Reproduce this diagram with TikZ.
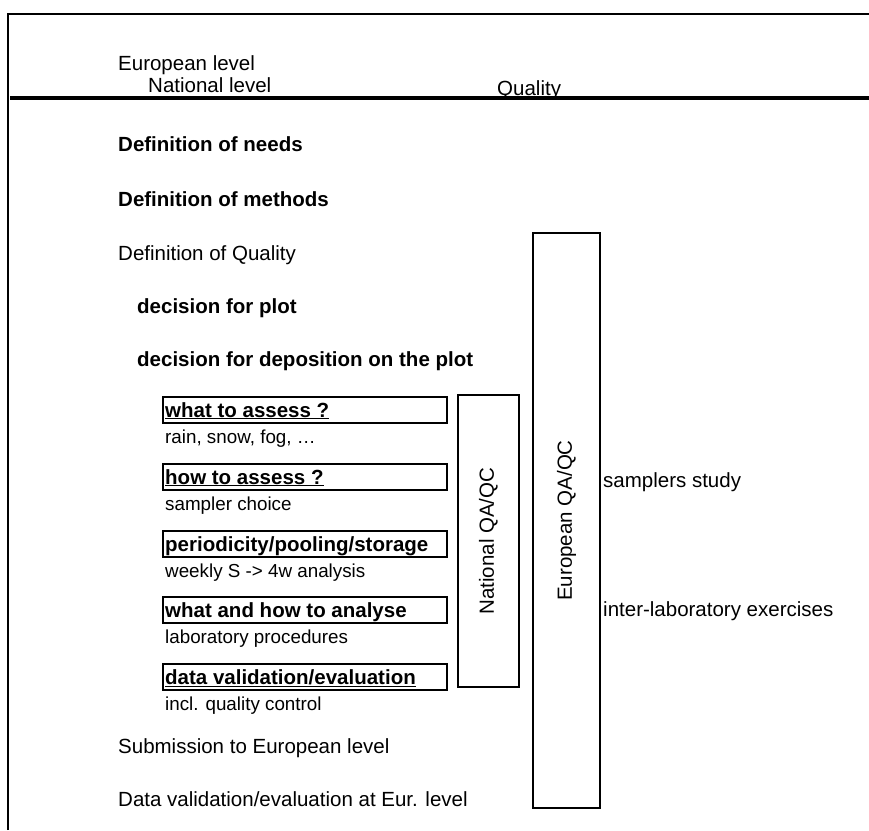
\documentclass[tikz,border=0pt]{standalone}
\usepackage{fontspec}
\setmainfont{Liberation Sans}
\usetikzlibrary{positioning}

\begin{document}
\begin{tikzpicture}[x=1pt, y=-1pt,
  TX/.style={anchor=base west, inner sep=0pt, font=\fontsize{20.5}{24}\selectfont},
  BT/.style={TX, font=\fontsize{20.5}{24}\selectfont\bfseries},
  SM/.style={TX, font=\fontsize{18.8}{22}\selectfont},
  BX/.style={draw, line width=1.8pt, anchor=north west, minimum width=284pt,
             minimum height=26pt, inner sep=0pt},
  QA/.style={draw, line width=1.8pt, rotate=90, inner sep=0pt,
             font=\fontsize{20.5}{24}\selectfont},
  FR/.style={line width=1.5pt},
  HL/.style={line width=3.5pt}
]
  \useasboundingbox (0,0) rectangle (869,830);
  % frame and header line
  \draw[FR] (8,830) -- (8,14) -- (869,14);
  \draw[HL] (10,98) -- (869,98);

  % header
  \node[TX] (eur) at (118,70) {European level};
  \node[TX] (nat) at (148,92) {National level};
  \node[TX] (qua) at (497,95) {Quality};

  % steps
  \node[BT] (needs) at (118,151) {Definition of needs};
  \node[BT] (meth)  at (118,206) {Definition of methods};
  \node[TX] (defq)  at (118,260) {Definition of Quality};
  \node[BT] (plot)  at (137,313) {decision for plot};
  \node[BT] (depo)  at (137,366) {decision for deposition on the plot};

  % boxed questions
  \foreach \n/\y/\t/\s in {1/396/{what to assess ?}/{rain, snow, fog, …},
                           2/463/{how to assess ?}/{sampler choice},
                           3/530/{periodicity/pooling/storage}/{weekly S -> 4w analysis},
                           4/596/{what and how to analyse}/{laboratory procedures},
                           5/663/{data validation/evaluation}/{incl. quality control}}{
    \node[BX] (b\n) at (162,\y) {};
    \node[BT] (q\n) at (165,\y+21) {\underline{\t}};
    \node[SM] (s\n) at (165,\y+47) {\s};
  }

  \node[TX] (subm) at (118,753) {Submission to European level};
  \node[TX] (dval) at (118,806) {Data validation/evaluation at Eur. level};

  % QA/QC columns
  \node[QA, minimum width=292pt, minimum height=61pt] (natqa) at (488.5,541) {National QA/QC};
  \node[QA, minimum width=575pt, minimum height=67pt] (eurqa) at (566.5,520.5) {European QA/QC};

  \node[TX] (samp)  at (603,487) {samplers study};
  \node[TX] (inter) at (603,616) {inter-laboratory exercises};
\end{tikzpicture}
\end{document}
